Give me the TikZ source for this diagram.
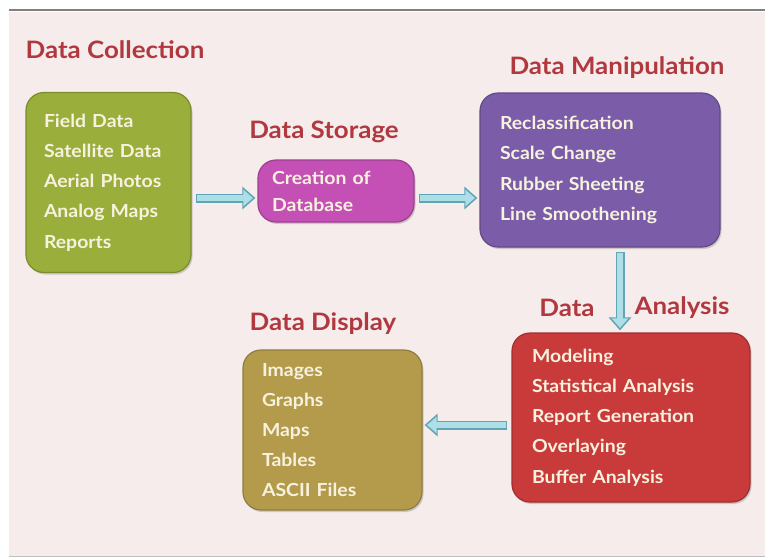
\documentclass[tikz,border=0pt]{standalone}
\usepackage{fontspec}
\setmainfont{Lato}[FakeStretch=1.08]
\usetikzlibrary{calc,positioning,arrows.meta,shadows}

\definecolor{bgpink}{HTML}{F6ECEC}
\definecolor{titlered}{HTML}{B0383E}
\definecolor{itemcream}{HTML}{F7F2DE}
\definecolor{collectgreen}{HTML}{9AAE3C}
\definecolor{storepink}{HTML}{C44FB5}
\definecolor{manippurple}{HTML}{7A5CA8}
\definecolor{analysisred}{HTML}{C93A3B}
\definecolor{displaytan}{HTML}{B49B4C}
\definecolor{arrowfill}{HTML}{AEDFE9}
\definecolor{arrowedge}{HTML}{5FA5B3}

\begin{document}
\begin{tikzpicture}[
  x=1pt, y=-1pt,
  title/.style={font=\fontsize{24}{28}\selectfont\bfseries, text=titlered, inner sep=0pt},
  box/.style={rounded corners=18pt, align=left, inner xsep=18pt, inner ysep=0pt,
    font=\fontsize{18}{30.2}\selectfont\bfseries, text=itemcream, line width=1.2pt,
    drop shadow={shadow xshift=1.5pt, shadow yshift=-2pt, opacity=0.35}},
  blockarr/.style={line width=9pt, draw=arrowedge, shorten <=4pt, shorten >=2pt,
    -{Triangle[length=13pt, width=22pt]},
    postaction={draw=arrowfill, line width=6pt, shorten <=5.5pt, shorten >=4.5pt,
      -{Triangle[length=9.5pt, width=16pt]}}}
]
% background and top rule
\useasboundingbox (0,0) rectangle (765,558);
\fill[bgpink] (9,12) rectangle (765,556);
\draw[gray!50, line width=0.6pt] (9,556) -- (765,556);
\draw[gray, line width=1.6pt] (9,10) -- (765,10);

% boxes
\node[box, fill=collectgreen, draw=collectgreen!80!black, text width=129pt, minimum height=180pt] (collect) at (108.5,182.5)
  {Field Data\\Satellite Data\\Aerial Photos\\Analog Maps\\Reports};
\node[box, fill=storepink, draw=storepink!80!black, inner xsep=14pt, text width=128pt, minimum height=62pt,
  font=\fontsize{18}{27}\selectfont\bfseries] (store) at (336,191)
  {Creation of\\Database};
\node[box, fill=manippurple, draw=manippurple!80!black, inner xsep=20pt, text width=200pt, minimum height=154pt] (manip) at (600,170)
  {Reclassification\\Scale Change\\Rubber Sheeting\\Line Smoothening};
\node[box, fill=analysisred, draw=analysisred!80!black, inner xsep=20pt, text width=198pt, minimum height=169pt] (analysis) at (631,417.5)
  {Modeling\\Statistical Analysis\\Report Generation\\Overlaying\\Buffer Analysis};
\node[box, fill=displaytan, draw=displaytan!80!black, inner xsep=19pt, text width=141pt, minimum height=160pt] (display) at (332.5,430)
  {Images\\Graphs\\Maps\\Tables\\ASCII Files};

% titles
\node[title] (collecttitle) at (115,50) {Data Collection};
\node[title] (storetitle) at (324,132) {Data Storage};
\node[title] (maniptitle) at (617,68) {Data Manipulation};
\node[title] (analysistitleA) at (567,308) {Data};
\node[title] (analysistitleB) at (682,308) {Analysis};
\node[title] (displaytitle) at (323,324) {Data Display};

% connectors
\draw[blockarr] ([yshift=-15.5pt]collect.east) -- ([yshift=-15.5pt]collect.east -| store.west);
\draw[blockarr] ([yshift=-7pt]store.east) -- ([yshift=-7pt]store.east -| manip.west);
\draw[blockarr] ([xshift=20pt]manip.south) -- ([xshift=20pt]manip.south |- analysis.north);
\draw[blockarr] ([yshift=-7.5pt]analysis.west) -- ([yshift=-7.5pt]analysis.west -| display.east);
\end{tikzpicture}
\end{document}
